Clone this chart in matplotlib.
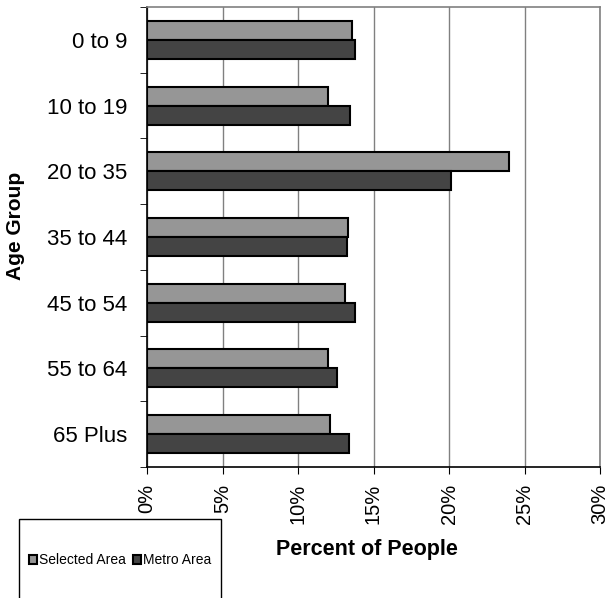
import matplotlib
matplotlib.use("Agg")
import matplotlib.pyplot as plt
import numpy as np
from matplotlib.patches import Rectangle, Patch
from matplotlib.ticker import FuncFormatter, FixedLocator

plt.rcParams['font.family'] = ['Liberation Sans', 'DejaVu Sans']

categories = ["0 to 9", "10 to 19", "20 to 35", "35 to 44", "45 to 54", "55 to 64", "65 Plus"]
selected_area = [13.6, 12.0, 24.0, 13.3, 13.1, 12.0, 12.1]
metro_area = [13.8, 13.45, 20.1, 13.25, 13.8, 12.55, 13.35]
x_ticks = [0, 5, 10, 15, 20, 25, 30]

W, H = 609, 598
fig = plt.figure(figsize=(W / 100, H / 100), dpi=100)
ax = fig.add_axes([147 / W, 1 - 467 / H, (600 - 147) / W, (467 - 7) / H])

y = np.arange(len(categories))
bh = 0.29
ax.barh(y - bh / 2, selected_area, height=bh, color="#969696", edgecolor="black", linewidth=1.5,
        label="Selected Area", zorder=3)
ax.barh(y + bh / 2, metro_area, height=bh, color="#444444", edgecolor="black", linewidth=1.5,
        label="Metro Area", zorder=3)

ax.set_xlim(0, 30)
ax.set_ylim(len(categories) - 0.5, -0.5)
ax.set_xticks(x_ticks)
ax.xaxis.set_major_formatter(FuncFormatter(lambda v, p: f"{int(v)}%"))
ax.tick_params(axis='x', labelrotation=90, labelsize=14.5, length=5, direction='out', pad=7)
ax.set_yticks(y)
ax.set_yticklabels(categories)
ax.yaxis.set_minor_locator(FixedLocator(np.arange(-0.5, len(categories), 1.0)))
ax.tick_params(axis='y', which='major', length=0, labelsize=16, pad=14)
ax.tick_params(axis='y', which='minor', length=5, direction='out')
ax.grid(axis='x', color="#808080", linewidth=1.0, zorder=0)

for side in ['top', 'right']:
    ax.spines[side].set_color("#808080")
    ax.spines[side].set_linewidth(1.2)
for side in ['left', 'bottom']:
    ax.spines[side].set_color("black")
    ax.spines[side].set_linewidth(1.2)

ax.set_xlabel("Percent of People", fontsize=15.5, fontweight='bold', va='baseline')
ax.xaxis.set_label_coords(0.485, (467 - 555) / 460)
ax.set_ylabel("Age Group", fontsize=15, fontweight='bold', va='center')
ax.yaxis.set_label_coords((16 - 147) / 453, 0.525)

# legend box
rect = Rectangle((18.5 / W, -0.01), (221 - 18.5) / W, 1 - 519 / H + 0.01, transform=fig.transFigure,
                 fill=False, edgecolor="black", linewidth=1.0)
fig.add_artist(rect)
handles = [Patch(facecolor="#969696", edgecolor="black", linewidth=1.5),
           Patch(facecolor="#444444", edgecolor="black", linewidth=1.5)]
fig.legend(handles, ["Selected Area", "Metro Area"], loc='center',
           bbox_to_anchor=(120 / W, 1 - 560 / H), ncol=2, frameon=False, fontsize=10,
           handlelength=0.6, handleheight=0.6, handletextpad=0.15, columnspacing=0.5)

fig.savefig("out.png", dpi=100)
